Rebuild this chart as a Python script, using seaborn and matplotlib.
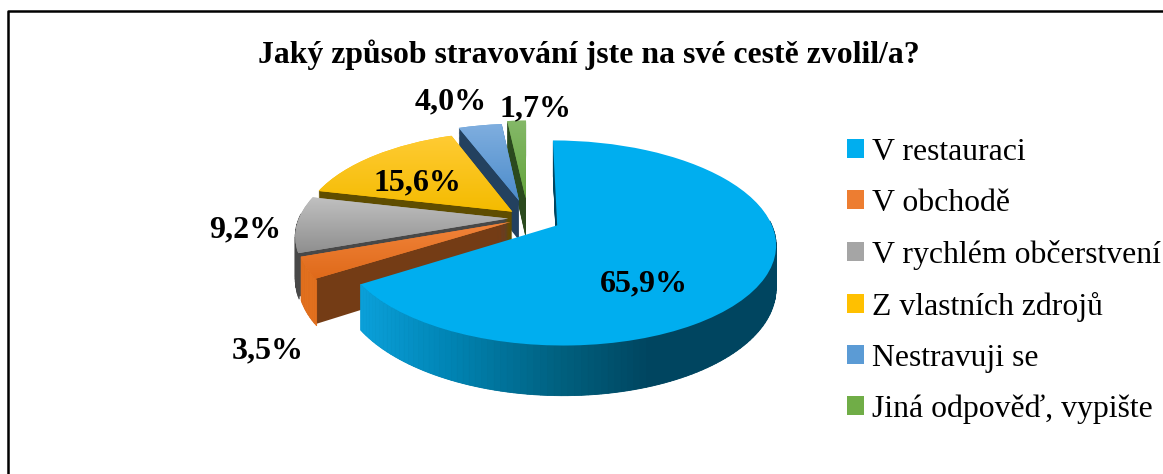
import numpy as np
import matplotlib
matplotlib.use('Agg')
import matplotlib.pyplot as plt
from matplotlib.patches import Patch, Polygon
from matplotlib.transforms import Transform
from matplotlib.colors import to_rgb
import seaborn as sns

# values
categories = ['V restauraci', 'V obchodě', 'V rychlém občerstvení', 'Z vlastních zdrojů', 'Nestravuji se', 'Jiná odpověď, vypište']
values = [65.9, 3.5, 9.2, 15.6, 4.0, 1.7]
explode = [0.155, 0.09, 0.094, 0.10, 0.19, 0.21]
radius_scale = [1.0, 0.98, 0.986, 0.988, 0.98, 1.0]

top_colors = ['#00AEEF', '#ED7D31', '#A5A5A5', '#FFC000', '#5B9BD5', '#70AD47']
grad_start = ['#00AEEF', '#F2843A', '#C0C0C0', '#FFCB33', '#7FAEDF', '#84B868']
grad_end = ['#00AEEF', '#DF6A1A', '#8F8F8F', '#F4BB00', '#4C8CCB', '#66A63E']
face_colors = ['#004560', '#743C15', '#484848', '#5F4D00', '#23415F', '#2B4A1E']
draw_order = [5, 4, 3, 2, 1, 0]  # zorder rank, back slices first
label_pos = [(644, 284), (268, 351), (245, 230), (417, 183), (451, 102), (536, 109)]

CX, CY, RX, RY, K = 528, 218, 212, 97, 0.17
DEPTH = 41

sns.set_theme(style='white')
plt.rcParams['font.family'] = ['Liberation Serif', 'DejaVu Serif']


class Persp(Transform):
    # tilts the flat pie, near side gets bigger
    input_dims = 2
    output_dims = 2

    def __init__(self, drop=0):
        super().__init__()
        self.drop = drop

    def transform_non_affine(self, xy):
        xy = np.asarray(xy)
        w = 1 + K * xy[:, 1]
        return np.column_stack([CX + RX * xy[:, 0] / w, CY - (RY * xy[:, 1] - self.drop) / w])


def wall_color(i, px):
    if i == 0:
        stops = [366, 450, 560, 650, 780]
        cols = np.array([to_rgb(c) for c in ['#0A9FD8', '#0084B4', '#00607F', '#004560', '#004560']])
        return [np.interp(px, stops, cols[:, k]) for k in range(3)]
    if i == 1:
        return to_rgb('#E2701E')
    return to_rgb(face_colors[i])


fig = plt.figure(figsize=(11.63, 4.74), dpi=100)
ax = fig.add_axes([0, 0, 1, 1])

# side walls: same pie stacked downwards
for d in range(DEPTH, 0, -1):
    wedges, _ = ax.pie(values, explode=explode, colors=sns.color_palette(face_colors), startangle=90, counterclock=False)
    for i, w in enumerate(wedges):
        w.set_radius(radius_scale[i])
        w.set_transform(Persp(d) + ax.transData)
        w.set_zorder(draw_order[i] * 100 + 1 + (DEPTH - d) * 0.5)
        w.set_linewidth(0)

# top surfaces
wedges, _ = ax.pie(values, explode=explode, colors=sns.color_palette(top_colors), startangle=90, counterclock=False)
for i, w in enumerate(wedges):
    w.set_radius(radius_scale[i])
    w.set_transform(Persp(0) + ax.transData)
    w.set_zorder(draw_order[i] * 100 + 60)
    w.set_linewidth(0)

    # rounded outer wall with shading, near half only
    th = np.radians(np.arange(w.theta1, w.theta2 + 1.5, 1.5))
    th = th[np.sin(th) < 0.05]
    if len(th) > 1:
        unit = np.column_stack([w.center[0] + w.r * np.cos(th), w.center[1] + w.r * np.sin(th)])
        upper = Persp(0).transform(unit)
        lower = Persp(DEPTH).transform(unit)
        for a in range(len(th) - 1):
            quad = np.vstack([upper[a], upper[a + 1], lower[a + 1], lower[a]])
            c = wall_color(i, quad[:, 0].mean())
            ax.add_patch(Polygon(quad, closed=True, facecolor=c, edgecolor=c, linewidth=0.6, zorder=draw_order[i] * 100 + 50))

    # vertical gradient on the top face
    if i > 0:
        pts = Persp(0).transform(w.get_patch_transform().transform(w.get_path().vertices))
        grad = np.linspace(0, 1, 64)[:, None, None] * (np.array(to_rgb(grad_end[i])) - np.array(to_rgb(grad_start[i]))) + np.array(to_rgb(grad_start[i]))
        im = ax.imshow(grad, extent=(pts[:, 0].min(), pts[:, 0].max(), pts[:, 1].max(), pts[:, 1].min()),
                       aspect='auto', zorder=draw_order[i] * 100 + 61)
        im.set_clip_path(w)

for v, (lx, ly) in zip(values, label_pos):
    ax.text(lx, ly, f'{v:.1f}'.replace('.', ',') + '%', ha='center', va='center', fontsize=23,
            fontweight='bold', color='black', zorder=2000)

ax.text(589, 55, 'Jaký způsob stravování jste na své cestě zvolil/a?', ha='center', va='center',
        fontsize=22.9, fontweight='bold', color='black', zorder=2000)

handles = [Patch(facecolor=c, edgecolor='none') for c in top_colors]
leg = ax.legend(handles, categories, loc='upper left', bbox_to_anchor=(847 / 1163, 1 - 138 / 474),
                bbox_transform=fig.transFigure, frameon=False, fontsize=22.9, handlelength=0.535,
                handleheight=0.535, handletextpad=0.25, labelspacing=0.688, borderpad=0, borderaxespad=0)
leg.set_zorder(2000)
for t in leg.get_texts():
    t.set_color('black')

# frame of the pasted picture
ax.plot([8, 8, 1163], [474, 11, 11], color='black', lw=1.8, zorder=2000, solid_capstyle='butt')

ax.set_aspect('auto')
ax.set_xlim(0, 1163)
ax.set_ylim(474, 0)
ax.axis('off')
fig.savefig('out.png', dpi=100, facecolor='white')
